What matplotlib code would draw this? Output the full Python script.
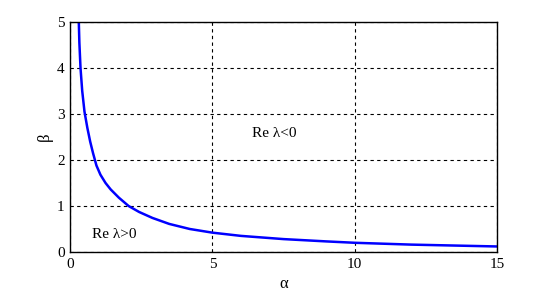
import numpy as np
import matplotlib.pyplot as plt

plt.rcParams['font.family'] = ['Liberation Serif', 'DejaVu Serif']

# values
alpha = [0.30, 0.32, 0.36, 0.42, 0.50, 0.60, 0.70, 0.80, 0.92, 1.06, 1.24, 1.42,
         1.71, 2.05, 2.42, 2.89, 3.48, 4.2, 5.0, 6.0, 7.5, 9.0, 10.0, 12.0, 15.0]
beta = [5.0, 4.55, 4.0, 3.5, 3.05, 2.7, 2.4, 2.15, 1.88, 1.68, 1.50, 1.36,
        1.18, 1.0, 0.87, 0.74, 0.61, 0.50, 0.42, 0.35, 0.28, 0.23, 0.2, 0.16, 0.12]
xticks = [0, 5, 10, 15]
yticks = [0, 1, 2, 3, 4, 5]

fig = plt.figure(figsize=(5.49, 2.93), dpi=100)
ax = fig.add_axes([0.128, 0.14, 0.777, 0.785])
ax.plot(alpha, beta, color='#0000ff', lw=1.8)

ax.set_xlim(0, 15)
ax.set_ylim(0, 5)
ax.set_xticks(xticks)
ax.set_yticks(yticks)
ax.tick_params(length=0, labelsize=11, pad=4)
ax.grid(True, color='black', linestyle=(0, (3, 3)), lw=0.8)
for s in ax.spines.values():
    s.set_linewidth(1.0)

ax.set_xlabel('α', fontsize=12, labelpad=4)
ax.set_ylabel('β', fontsize=12, labelpad=3, rotation=90)

ax.text(0.75, 0.3, 'Re λ>0', fontsize=11)
ax.text(6.4, 2.5, 'Re λ<0', fontsize=11)

fig.savefig('out.png', dpi=100)
